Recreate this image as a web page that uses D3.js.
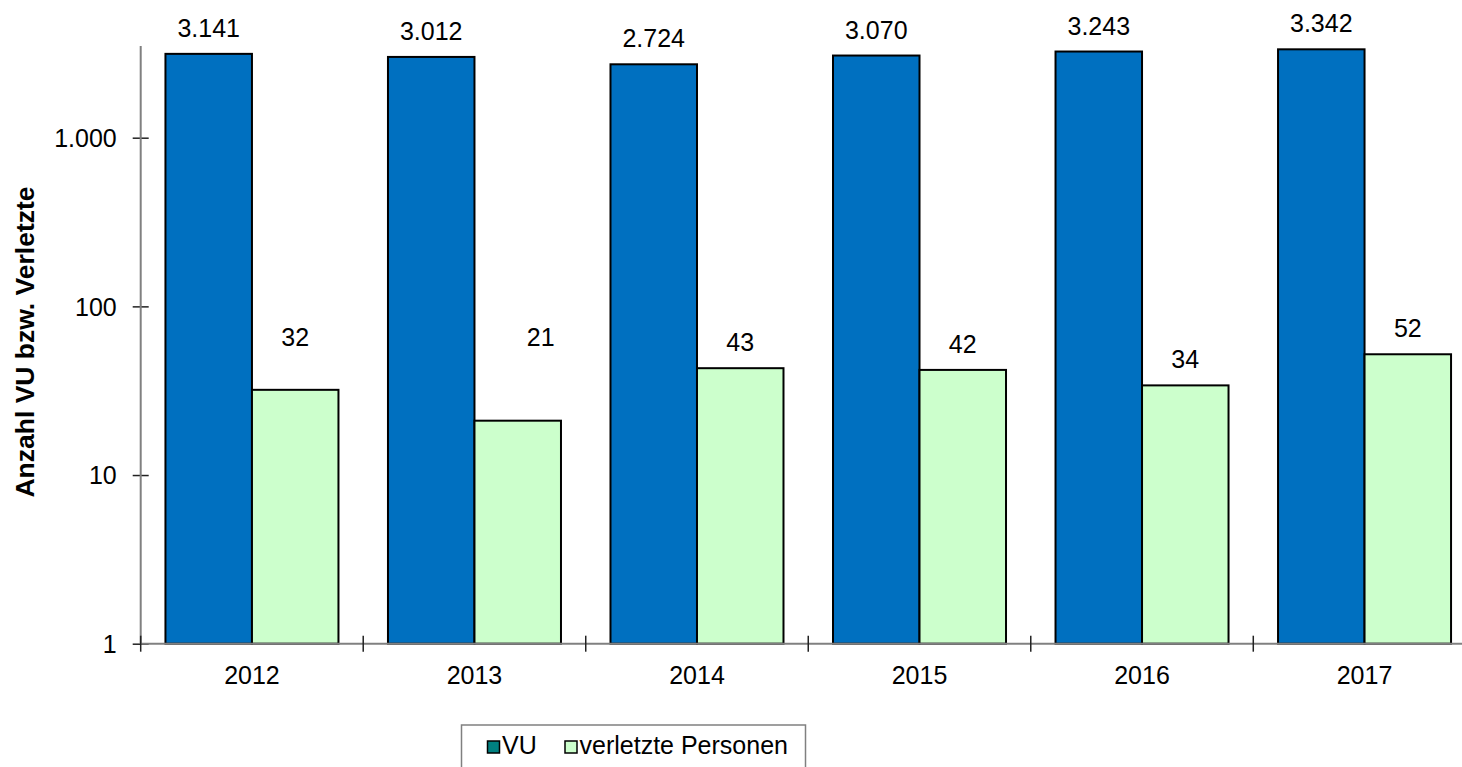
<!DOCTYPE html>
<html>
<head>
<meta charset="utf-8">
<script src="https://cdn.jsdelivr.net/npm/d3@7"></script>
<style>
  body { margin: 0; background: #fff; }
  svg { display: block; font-family: "Liberation Sans", Arial, sans-serif; }
</style>
</head>
<body>
<div id="chart"></div>
<script>
var years = ["2012", "2013", "2014", "2015", "2016", "2017"]
var vu = [3141, 3012, 2724, 3070, 3243, 3342]
var verletzte = [32, 21, 43, 42, 34, 52]
var seriesNames = ["VU", "verletzte Personen"]
var yTicks = [1, 10, 100, 1000]
var yTop = 3500

// a few labels were dragged by hand in the original
var labelNudge = { "1-0": [0, -27], "1-1": [23, -58] }

var W = 1462, H = 767
var colors = ["#0070C0", "#CCFFCC"]
var legendColors = ["#008080", "#CCFFCC"]
var de = d3.formatLocale({ decimal: ",", thousands: ".", grouping: [3], currency: ["", "€"] })
var fmt = de.format(",")

var svg = d3.select("#chart").append("svg").attr("width", W).attr("height", H)

var left = 140.7, right = 1475.8
var y = d3.scaleLog().domain([1, 1000]).range([643.7, 137.7])
var x = d3.scaleBand().domain(years).range([left, right]).paddingInner(0.2225).paddingOuter(0.11125)
var xs = d3.scaleBand().domain(d3.range(seriesNames.length)).range([0, x.bandwidth()])

var series = [vu, verletzte]

// bars
series.forEach(function(vals, s) {
	svg.append("g").selectAll("rect").data(vals).join("rect")
		.attr("x", function(d, i) { return x(years[i]) + xs(s) })
		.attr("y", function(d) { return y(d) })
		.attr("width", xs.bandwidth())
		.attr("height", function(d) { return y(1) - y(d) })
		.attr("fill", colors[s])
		.attr("stroke", "#000").attr("stroke-width", 2)
})

// value labels
series.forEach(function(vals, s) {
	svg.append("g").selectAll("text").data(vals).join("text")
		.attr("x", function(d, i) {
			var n = labelNudge[s + "-" + i]
			return x(years[i]) + xs(s) + xs.bandwidth() / 2 + (n ? n[0] : 0)
		})
		.attr("y", function(d, i) {
			var n = labelNudge[s + "-" + i]
			return y(d) - 17 + (n ? n[1] : 0)
		})
		.attr("text-anchor", "middle").attr("font-size", 25).attr("fill", "#000")
		.text(function(d) { return fmt(d) })
})

// y axis
var yAxis = svg.append("g").attr("transform", "translate(" + left + ",0)")
	.call(d3.axisLeft(y).tickValues(yTicks).tickFormat(fmt).tickSize(8))
yAxis.select(".domain").remove()
yAxis.append("line").attr("y1", y(1)).attr("y2", y(yTop)).attr("stroke", "#808080").attr("stroke-width", 2)
yAxis.selectAll(".tick line").attr("x1", 8).attr("x2", -8).attr("stroke", "#222").attr("stroke-width", 1.5)
yAxis.selectAll(".tick text").attr("x", -24).attr("font-size", 25).attr("fill", "#000")
	.attr("font-family", "Liberation Sans, Arial, sans-serif").attr("dy", "0.35em")

// x axis
var xAxis = svg.append("g")
xAxis.append("line").attr("x1", left).attr("x2", right).attr("y1", y(1)).attr("y2", y(1))
	.attr("stroke", "#808080").attr("stroke-width", 2)
xAxis.selectAll("line.b").data(d3.range(years.length + 1)).join("line").attr("class", "b")
	.attr("x1", function(i) { return left + i * x.step() }).attr("x2", function(i) { return left + i * x.step() })
	.attr("y1", y(1) - 8).attr("y2", y(1) + 8).attr("stroke", "#222").attr("stroke-width", 1.5)
xAxis.selectAll("text").data(years).join("text")
	.attr("x", function(d) { return x(d) + x.bandwidth() / 2 }).attr("y", 683.5)
	.attr("text-anchor", "middle").attr("font-size", 25).attr("fill", "#000").text(function(d) { return d })

// y title
svg.append("text").attr("transform", "translate(34,342) rotate(-90)")
	.attr("text-anchor", "middle").attr("font-size", 26.5).attr("font-weight", "bold")
	.text("Anzahl VU bzw. Verletzte")

// legend
var lg = svg.append("g")
lg.append("rect").attr("x", 461.5).attr("y", 725).attr("width", 344).attr("height", 60)
	.attr("fill", "#fff").attr("stroke", "#808080").attr("stroke-width", 1.5)
var legX = [487.5, 565]
seriesNames.forEach(function(name, s) {
	lg.append("rect").attr("x", legX[s]).attr("y", 741).attr("width", 12).attr("height", 12)
		.attr("fill", legendColors[s]).attr("stroke", "#000").attr("stroke-width", 1.5)
	lg.append("text").attr("x", legX[s] + 14.5).attr("y", 753.5).attr("font-size", 25).attr("fill", "#000").text(name)
})
</script>
</body>
</html>
